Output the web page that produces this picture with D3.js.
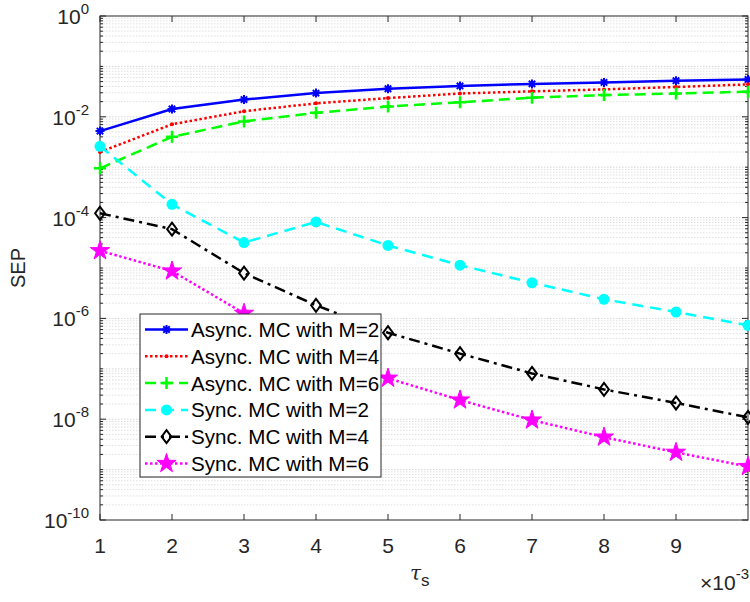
<!DOCTYPE html>
<html>
<head>
<meta charset="utf-8">
<script src="https://cdn.jsdelivr.net/npm/d3@7"></script>
<style>
  html, body { margin: 0; padding: 0; background: #fff; }
  svg { display: block; font-family: "Liberation Sans", Arial, sans-serif; }
</style>
</head>
<body>
<svg id="chart" width="750" height="602"></svg>
<script>
// tau_s values (in units of 1e-3)
const tau = [1, 2, 3, 4, 5, 6, 7, 8, 9, 10];
const xTicks = [1, 2, 3, 4, 5, 6, 7, 8, 9];
const yTickExps = [0, -2, -4, -6, -8, -10];

// symbol error probability per scheme
const asyncM2 = [5.2e-3, 1.43e-2, 2.2e-2, 2.95e-2, 3.6e-2, 4.1e-2, 4.5e-2, 4.8e-2, 5.2e-2, 5.5e-2];
const asyncM4 = [2.0e-3, 7.1e-3, 1.29e-2, 1.85e-2, 2.35e-2, 2.9e-2, 3.2e-2, 3.5e-2, 3.9e-2, 4.4e-2];
const asyncM6 = [9.5e-4, 4.0e-3, 8.1e-3, 1.2e-2, 1.6e-2, 1.94e-2, 2.4e-2, 2.7e-2, 2.9e-2, 3.15e-2];
const syncM2  = [2.6e-3, 1.83e-4, 3.2e-5, 8.2e-5, 2.8e-5, 1.14e-5, 5.1e-6, 2.4e-6, 1.34e-6, 7.3e-7];
const syncM4  = [1.22e-4, 5.9e-5, 7.9e-6, 1.82e-6, 5.2e-7, 2.0e-7, 8.1e-8, 3.9e-8, 2.1e-8, 1.09e-8];
const syncM6  = [2.2e-5, 8.7e-6, 1.26e-6, 3.0e-7, 6.5e-8, 2.4e-8, 9.6e-9, 4.4e-9, 2.2e-9, 1.15e-9];

const seriesNames = [
  "Async. MC with M=2", "Async. MC with M=4", "Async. MC with M=6",
  "Sync. MC with M=2", "Sync. MC with M=4", "Sync. MC with M=6"
];

const series = [
  { name: seriesNames[0], values: asyncM2, color: "#0000ff", dash: null,        marker: "asterisk" },
  { name: seriesNames[1], values: asyncM4, color: "#ff0000", dash: "2.5,2.5",   marker: "point" },
  { name: seriesNames[2], values: asyncM6, color: "#00ff00", dash: "11,6",      marker: "plus" },
  { name: seriesNames[3], values: syncM2,  color: "#00ffff", dash: "11,7",      marker: "circle" },
  { name: seriesNames[4], values: syncM4,  color: "#000000", dash: "11,5,3,5",  marker: "diamond" },
  { name: seriesNames[5], values: syncM6,  color: "#ff00ff", dash: "2.5,2.5",   marker: "star" }
];

const svg = d3.select("#chart");
const L = 100, R = 748, T = 16, B = 520;
const axisColor = "#262626";

const x = d3.scaleLinear().domain([1, 10]).range([L, R]);
const y = d3.scaleLog().domain([1e-10, 1]).range([B, T]);

// horizontal grid (every minor and major position)
const gridVals = [];
for (let e = -10; e < 0; e++) {
  for (let m = 1; m <= 9; m++) gridVals.push(m * Math.pow(10, e));
}
gridVals.push(1);
svg.append("g")
  .selectAll("line")
  .data(gridVals.filter(v => v > 1e-10 && v < 1))
  .join("line")
  .attr("x1", L).attr("x2", R)
  .attr("y1", d => y(d)).attr("y2", d => y(d))
  .attr("stroke", d => Math.abs(Math.log10(d) - Math.round(Math.log10(d))) < 1e-9 ? "#d6d6d6" : "#e0e0e0")
  .attr("stroke-width", 1)
  .attr("stroke-dasharray", "1.5,1.5");

// axes box
svg.append("rect")
  .attr("x", L).attr("y", T).attr("width", R - L).attr("height", B - T)
  .attr("fill", "none").attr("stroke", axisColor).attr("stroke-width", 1);

// x ticks (inward, bottom and top)
const xt = svg.append("g");
xTicks.forEach(v => {
  xt.append("line").attr("x1", x(v)).attr("x2", x(v)).attr("y1", B).attr("y2", B - 6)
    .attr("stroke", axisColor);
  xt.append("line").attr("x1", x(v)).attr("x2", x(v)).attr("y1", T).attr("y2", T + 6)
    .attr("stroke", axisColor);
  xt.append("text").attr("x", x(v)).attr("y", 553)
    .attr("text-anchor", "middle").attr("font-size", 21).attr("fill", axisColor)
    .text(d3.format("d")(v));
});

// y ticks: major at labelled decades, minor elsewhere
const yt = svg.append("g");
gridVals.forEach(v => {
  const e = Math.log10(v);
  const isMajor = yTickExps.some(k => Math.abs(k - e) < 1e-9);
  const len = isMajor ? 6 : 3;
  yt.append("line").attr("x1", L).attr("x2", L + len).attr("y1", y(v)).attr("y2", y(v)).attr("stroke", axisColor);
  yt.append("line").attr("x1", R).attr("x2", R - len).attr("y1", y(v)).attr("y2", y(v)).attr("stroke", axisColor);
});
yTickExps.forEach(k => {
  const t = yt.append("text").attr("x", 89).attr("y", y(Math.pow(10, k)) + 8)
    .attr("text-anchor", "end").attr("font-size", 21).attr("fill", axisColor);
  t.append("tspan").text("10");
  t.append("tspan").attr("dy", -10).attr("font-size", 15).text(k === 0 ? "0" : "-" + Math.abs(k));
});

// axis labels
svg.append("text").attr("transform", "translate(25," + ((T + B) / 2) + ") rotate(-90)")
  .attr("text-anchor", "middle").attr("font-size", 20).attr("fill", axisColor).text("SEP");
const xl = svg.append("text").attr("x", 410).attr("y", 580).attr("font-size", 20).attr("fill", axisColor)
  .attr("font-family", "'DejaVu Serif', serif");
xl.append("tspan").attr("font-style", "italic").text("τ");
xl.append("tspan").attr("dy", 6).attr("font-size", 17).attr("font-family", "'Liberation Sans', Arial, sans-serif").text("s");
const mult = svg.append("text").attr("x", 749).attr("y", 590).attr("text-anchor", "end")
  .attr("font-size", 21).attr("fill", axisColor);
mult.append("tspan").text("×10");
mult.append("tspan").attr("dy", -11).attr("font-size", 15).text("-3");

// marker drawing
function drawMarker(g, type, color, cx, cy) {
  switch (type) {
    case "asterisk": {
      const r = 4.5, d = 3.2;
      g.append("path").attr("d",
        `M${cx - r},${cy}L${cx + r},${cy}M${cx},${cy - r}L${cx},${cy + r}` +
        `M${cx - d},${cy - d}L${cx + d},${cy + d}M${cx - d},${cy + d}L${cx + d},${cy - d}`)
        .attr("stroke", color).attr("stroke-width", 2).attr("fill", "none");
      break;
    }
    case "point":
      g.append("circle").attr("cx", cx).attr("cy", cy).attr("r", 2).attr("fill", color);
      break;
    case "plus": {
      const r = 6;
      g.append("path").attr("d", `M${cx - r},${cy}L${cx + r},${cy}M${cx},${cy - r}L${cx},${cy + r}`)
        .attr("stroke", color).attr("stroke-width", 2.5).attr("fill", "none");
      break;
    }
    case "circle":
      g.append("circle").attr("cx", cx).attr("cy", cy).attr("r", 5.5).attr("fill", color);
      break;
    case "diamond": {
      const r = 6.5;
      g.append("path").attr("d", `M${cx},${cy - r}L${cx + r * 0.75},${cy}L${cx},${cy + r}L${cx - r * 0.75},${cy}Z`)
        .attr("stroke", color).attr("stroke-width", 2).attr("fill", "none");
      break;
    }
    case "star":
      g.append("path").attr("d", d3.symbol().type(d3.symbolStar).size(115)())
        .attr("transform", `translate(${cx},${cy})`).attr("fill", color).attr("stroke", color);
      break;
  }
}

// series lines and markers
const line = d3.line().x((d, i) => x(tau[i])).y(d => y(d));
series.forEach(s => {
  const g = svg.append("g");
  g.append("path").datum(s.values).attr("d", line)
    .attr("fill", "none").attr("stroke", s.color).attr("stroke-width", 2.5)
    .attr("stroke-dasharray", s.dash);
  s.values.forEach((v, i) => drawMarker(g, s.marker, s.color, x(tau[i]), y(v)));
});

// legend
const lg = svg.append("g");
lg.append("rect").attr("x", 140).attr("y", 314).attr("width", 241).attr("height", 163)
  .attr("fill", "#fff").attr("stroke", axisColor).attr("stroke-width", 1);
series.forEach((s, i) => {
  const cy = 329.5 + i * 26.8;
  lg.append("line").attr("x1", 145).attr("x2", 188).attr("y1", cy).attr("y2", cy)
    .attr("stroke", s.color).attr("stroke-width", 2.5).attr("stroke-dasharray", s.dash);
  drawMarker(lg, s.marker, s.color, 166.5, cy);
  lg.append("text").attr("x", 191).attr("y", cy + 7.5).attr("font-size", 20.6).attr("fill", "#000")
    .text(s.name);
});
</script>
</body>
</html>
